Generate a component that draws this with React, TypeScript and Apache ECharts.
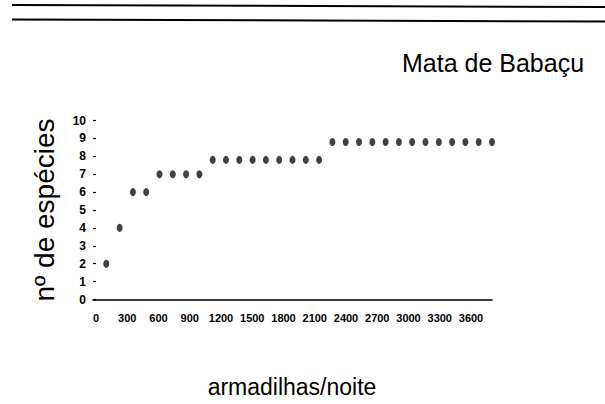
import React, { useEffect, useRef } from "react";
import * as echarts from "echarts";

// armadilhas/noite (trap-nights) at each sample point
const trapNights = [
  120, 240, 360, 480, 600, 720, 840, 960, 1080, 1200,
  1320, 1440, 1560, 1680, 1800, 1920, 2040, 2160, 2280, 2400,
  2520, 2640, 2760, 2880, 3000, 3120, 3240, 3360, 3480, 3600,
];
// nº de espécies
const speciesCount = [
  2, 4, 6, 6, 7, 7, 7, 7, 7.8, 7.8,
  7.8, 7.8, 7.8, 7.8, 7.8, 7.8, 7.8, 8.8, 8.8, 8.8,
  8.8, 8.8, 8.8, 8.8, 8.8, 8.8, 8.8, 8.8, 8.8, 8.8,
];
const xTickLabels = [
  "0", "300", "600", "900", "1200", "1500", "1800",
  "2100", "2400", "2700", "3000", "3300", "3600",
];
const yMin = 0;
const yMax = 10;
const titleText = "Mata de Babaçu";
const xName = "armadilhas/noite";
const yName = "nº de espécies";

const FONT = "'Liberation Sans', Arial, Helvetica, sans-serif";

export default function App() {
  const ref = useRef<HTMLDivElement>(null);
  useEffect(() => {
    if (!ref.current) return;
    const chart = echarts.init(ref.current, undefined, { renderer: "svg" });
    chart.setOption({
      animation: false,
      backgroundColor: "#ffffff",
      grid: [
        { left: 93, top: 120.5, width: 399, height: 179 },
        { left: 96, top: 120.5, width: 375, height: 179 },
      ],
      xAxis: [
        {
          gridIndex: 0,
          type: "value",
          min: 0,
          max: 3600,
          axisLine: { show: true, onZero: false, lineStyle: { color: "#000", width: 1.6 } },
          axisTick: { show: false },
          axisLabel: { show: false },
          splitLine: { show: false },
        },
        {
          gridIndex: 1,
          type: "category",
          data: xTickLabels,
          boundaryGap: false,
          axisLine: { show: false },
          axisTick: { show: false },
          splitLine: { show: false },
          axisLabel: {
            interval: 0,
            margin: 13,
            color: "#000",
            fontFamily: FONT,
            fontSize: 11,
            fontWeight: "bold",
          },
        },
      ],
      yAxis: [
        {
          gridIndex: 0,
          type: "value",
          min: yMin,
          max: yMax,
          interval: 1,
          axisLine: { show: false },
          axisTick: { show: true, inside: true, length: 3, lineStyle: { color: "#000", width: 1.2 } },
          splitLine: { show: false },
          axisLabel: {
            margin: 7,
            color: "#000",
            fontFamily: FONT,
            fontSize: 12,
            fontWeight: "bold",
          },
        },
        {
          gridIndex: 1,
          type: "value",
          min: yMin,
          max: yMax,
          show: false,
        },
      ],
      series: [
        {
          type: "scatter",
          xAxisIndex: 0,
          yAxisIndex: 0,
          data: trapNights.map((x, i) => [x, speciesCount[i]]),
          symbol: "circle",
          symbolSize: [6, 8],
          itemStyle: { color: "#111" },
        },
      ],
      graphic: [
        {
          type: "line",
          shape: { x1: 12, y1: 5, x2: 605, y2: 7 },
          style: { stroke: "#000", lineWidth: 2 },
        },
        {
          type: "line",
          shape: { x1: 12, y1: 19.5, x2: 605, y2: 21.5 },
          style: { stroke: "#000", lineWidth: 2 },
        },
        {
          type: "text",
          x: 493,
          y: 63,
          style: {
            text: titleText,
            fontFamily: FONT,
            fontSize: 25,
            fill: "#000",
            textAlign: "center",
            textVerticalAlign: "middle",
          },
        },
        {
          type: "text",
          x: 292,
          y: 387,
          style: {
            text: xName,
            fontFamily: FONT,
            fontSize: 23,
            fill: "#000",
            textAlign: "center",
            textVerticalAlign: "middle",
          },
        },
        {
          type: "text",
          x: 44,
          y: 210,
          rotation: Math.PI / 2,
          style: {
            text: yName,
            fontFamily: FONT,
            fontSize: 28,
            fill: "#000",
            textAlign: "center",
            textVerticalAlign: "middle",
          },
        },
      ],
    });
    return () => chart.dispose();
  }, []);
  return (
    <div
      ref={ref}
      style={{ position: "absolute", left: 0, top: 0, width: 605, height: 404 }}
    />
  );
}
